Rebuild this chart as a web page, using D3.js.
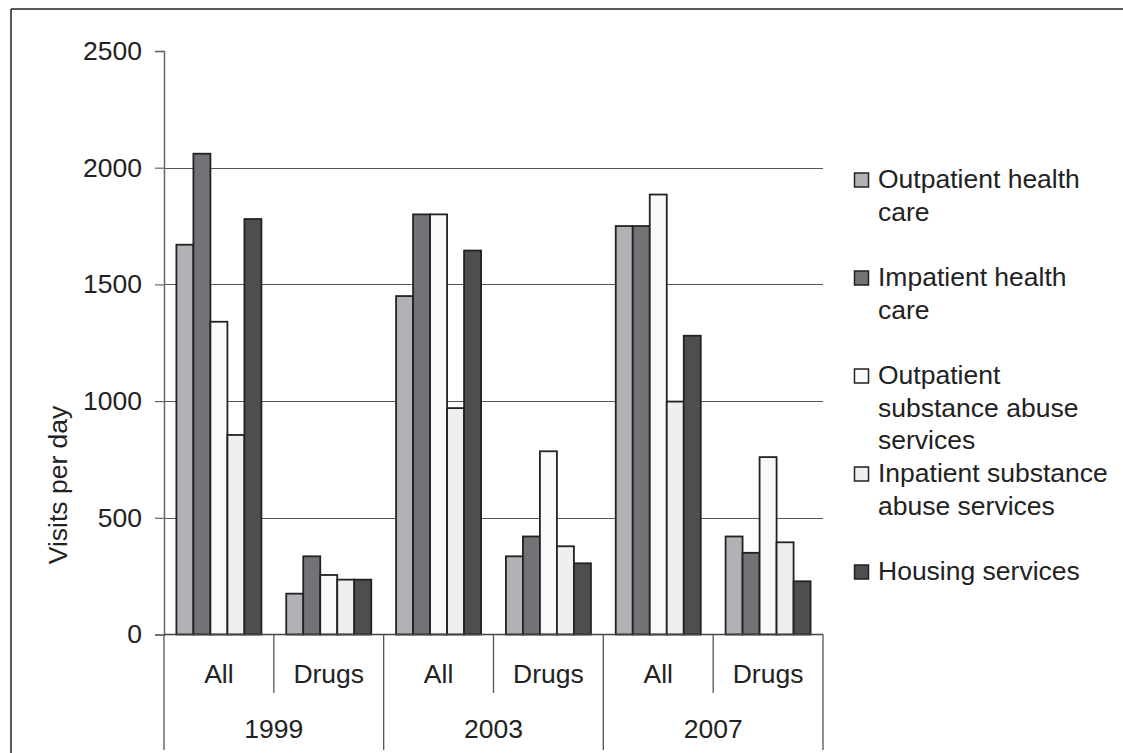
<!DOCTYPE html>
<html>
<head>
<meta charset="utf-8">
<script src="https://cdn.jsdelivr.net/npm/d3@7"></script>
<style>
  html, body { margin: 0; padding: 0; background: #fff; overflow: hidden; }
  svg { display: block; font-family: "Liberation Sans", Arial, sans-serif; }
</style>
</head>
<body>
<svg id="chart" width="1123" height="753"></svg>
<script>
// ---- data ----
const years = ["1999", "2003", "2007"];
const types = ["All", "Drugs"];
const seriesNames = [
  "Outpatient health care",
  "Impatient health care",
  "Outpatient substance abuse services",
  "Inpatient substance abuse services",
  "Housing services"
];
const legendLines = [
  ["Outpatient health", "care"],
  ["Impatient health", "care"],
  ["Outpatient", "substance abuse", "services"],
  ["Inpatient substance", "abuse services"],
  ["Housing services"]
];
// values in order: 1999 All, 1999 Drugs, 2003 All, 2003 Drugs, 2007 All, 2007 Drugs
const outpatientHealth = [1670, 175, 1450, 335, 1750, 420];
const inpatientHealth  = [2060, 335, 1800, 420, 1750, 350];
const outpatientSubst  = [1340, 255, 1800, 785, 1885, 760];
const inpatientSubst   = [855, 235, 970, 378, 998, 395];
const housing          = [1780, 235, 1645, 305, 1280, 228];
const yTicks = [0, 500, 1000, 1500, 2000, 2500];
const seriesColors = ["#b1b2b6", "#727377", "#f9f9f9", "#efefef", "#4d4e50"];

const seriesValues = [outpatientHealth, inpatientHealth, outpatientSubst, inpatientSubst, housing];
const categories = [];
years.forEach(y => types.forEach(t => categories.push(y + "|" + t)));

// ---- layout ----
const svg = d3.select("#chart");
const plotLeft = 164, plotRight = 823, plotTop = 51, plotBottom = 634.5;
const textColor = "#222";
const fontSize = 26.5;

// frame (top and left edges; right and bottom fall outside the picture)
svg.append("line").attr("x1", 11).attr("x2", 1123).attr("y1", 9).attr("y2", 9)
  .attr("stroke", "#222").attr("stroke-width", 1.5);
svg.append("line").attr("x1", 11).attr("x2", 11).attr("y1", 9).attr("y2", 753)
  .attr("stroke", "#222").attr("stroke-width", 1.5);

const y = d3.scaleLinear().domain([0, 2500]).range([plotBottom, plotTop]);
const x0 = d3.scaleBand().domain(categories).range([plotLeft, plotRight]).padding(0);
const x1 = d3.scaleBand().domain(seriesNames).range([0, x0.bandwidth()]).paddingInner(0).paddingOuter(0.73);
const xYear = d3.scaleBand().domain(years).range([plotLeft, plotRight]).padding(0);
const color = d3.scaleOrdinal().domain(seriesNames).range(seriesColors);

// gridlines
svg.append("g").selectAll("line")
  .data(yTicks.filter(t => t > 0 && t < 2500))
  .join("line")
  .attr("x1", plotLeft).attr("x2", plotRight)
  .attr("y1", d => Math.round(y(d)) + 0.5).attr("y2", d => Math.round(y(d)) + 0.5)
  .attr("stroke", "#555").attr("stroke-width", 1);

// y axis
const yAxis = svg.append("g").attr("transform", `translate(${plotLeft},0)`)
  .call(d3.axisLeft(y).tickValues(yTicks).tickSize(9).tickPadding(13).tickFormat(d3.format("d")));
yAxis.select(".domain").attr("stroke", "#666").attr("stroke-width", 1.5);
yAxis.selectAll(".tick line").attr("stroke", "#666").attr("stroke-width", 1.2);
yAxis.selectAll(".tick text")
  .attr("fill", textColor).style("font-size", fontSize + "px")
  .style("font-family", "'Liberation Sans', Arial, sans-serif");

// bars
const rows = categories.map((c, i) => ({ cat: c, vals: seriesNames.map((s, j) => ({ s, v: seriesValues[j][i] })) }));
svg.append("g").selectAll("g")
  .data(rows)
  .join("g")
  .attr("transform", d => `translate(${x0(d.cat)},0)`)
  .selectAll("rect")
  .data(d => d.vals)
  .join("rect")
  .attr("x", d => x1(d.s))
  .attr("width", x1.bandwidth())
  .attr("y", d => y(d.v))
  .attr("height", d => y(0) - y(d.v))
  .attr("fill", d => color(d.s))
  .attr("stroke", "#222").attr("stroke-width", 1.8);

// x axis baseline
svg.append("line")
  .attr("x1", plotLeft).attr("x2", plotRight)
  .attr("y1", plotBottom).attr("y2", plotBottom)
  .attr("stroke", "#444").attr("stroke-width", 1.5);

// separators: inner (type) boundaries and year boundaries
const innerBounds = years.map(yr => x0(yr + "|Drugs"));
svg.append("g").selectAll("line").data(innerBounds).join("line")
  .attr("x1", d => d).attr("x2", d => d)
  .attr("y1", plotBottom).attr("y2", 693)
  .attr("stroke", "#555").attr("stroke-width", 1.3);
const yearBounds = years.map(yr => xYear(yr)).concat([plotRight]);
svg.append("g").selectAll("line").data(yearBounds).join("line")
  .attr("x1", d => d).attr("x2", d => d)
  .attr("y1", plotBottom).attr("y2", 750)
  .attr("stroke", "#555").attr("stroke-width", 1.3);

// category labels
svg.append("g").selectAll("text").data(categories).join("text")
  .attr("x", d => x0(d) + x0.bandwidth() / 2)
  .attr("y", 683)
  .attr("text-anchor", "middle")
  .attr("fill", textColor).style("font-size", fontSize + "px")
  .text(d => d.split("|")[1]);
svg.append("g").selectAll("text").data(years).join("text")
  .attr("x", d => xYear(d) + xYear.bandwidth() / 2)
  .attr("y", 738)
  .attr("text-anchor", "middle")
  .attr("fill", textColor).style("font-size", fontSize + "px")
  .text(d => d);

// y axis title
svg.append("text")
  .attr("transform", "translate(67,485) rotate(-90)")
  .attr("text-anchor", "middle")
  .attr("fill", textColor).style("font-size", fontSize + "px")
  .text("Visits per day");

// legend
const legend = svg.append("g");
const legendItems = legend.selectAll("g").data(seriesNames).join("g")
  .attr("transform", (d, i) => `translate(854,${188 + i * 98})`);
legendItems.append("rect")
  .attr("x", 0.5).attr("y", -15).attr("width", 14).attr("height", 14)
  .attr("fill", d => color(d)).attr("stroke", "#222").attr("stroke-width", 1.5);
legendItems.append("text")
  .attr("x", 24).attr("y", 0)
  .attr("fill", textColor).style("font-size", fontSize + "px")
  .selectAll("tspan")
  .data((d, i) => legendLines[i])
  .join("tspan")
  .attr("x", 24)
  .attr("dy", (d, k) => k === 0 ? 0 : 32.5)
  .text(d => d);
</script>
</body>
</html>
